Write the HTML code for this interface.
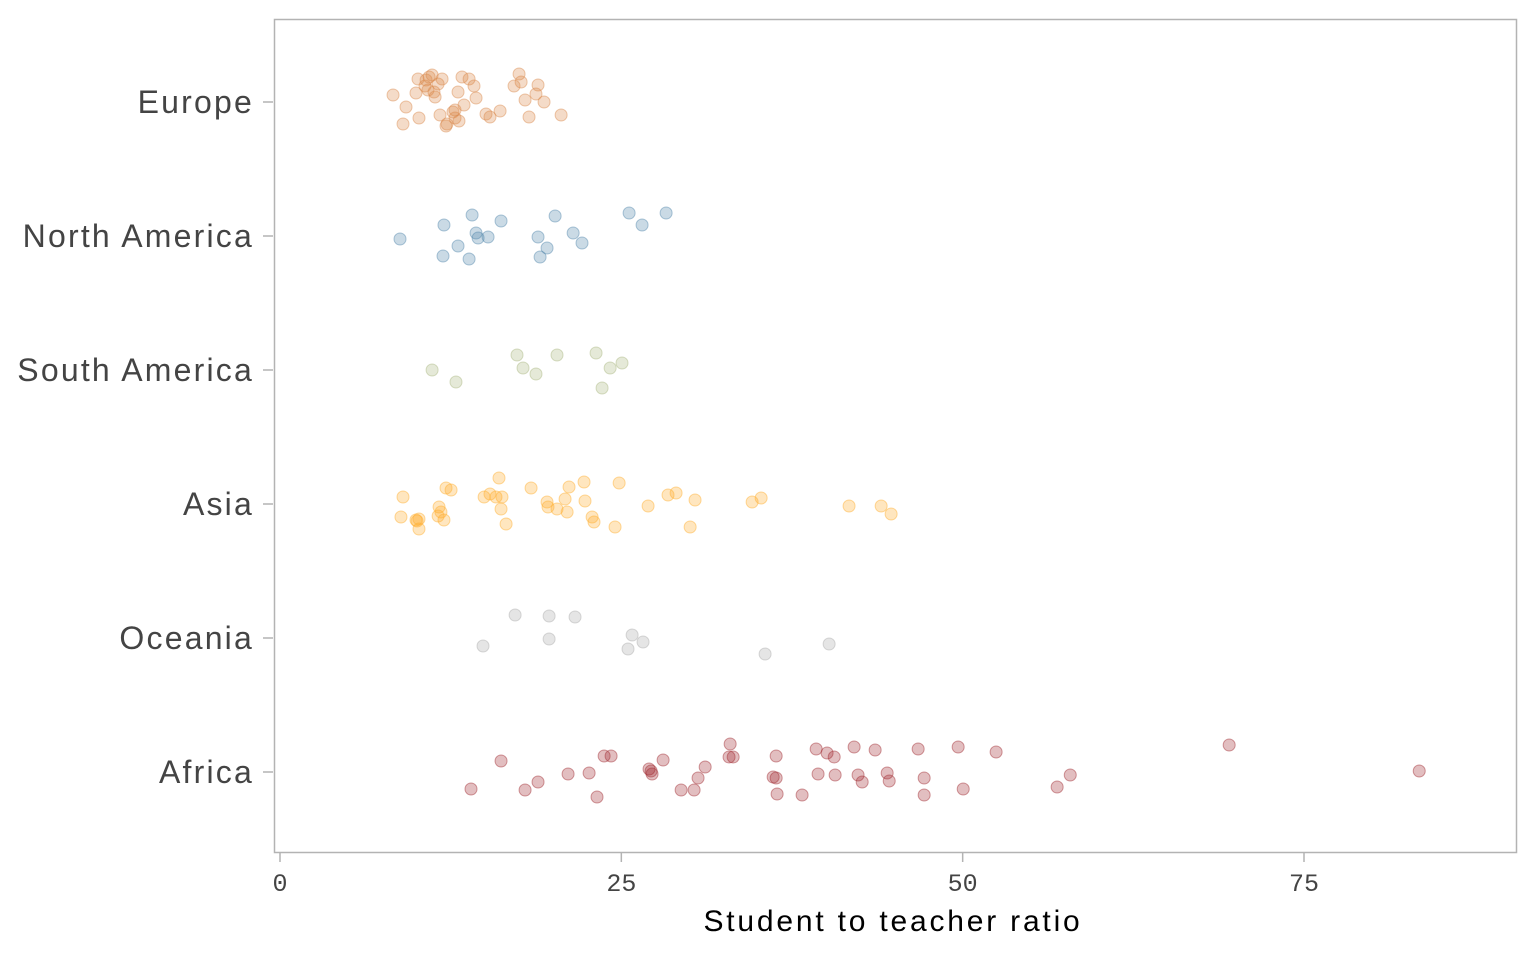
<!DOCTYPE html>
<html><head><meta charset="utf-8"><style>
html,body{margin:0;padding:0;background:#fff;width:1536px;height:960px;overflow:hidden}
svg{display:block}
</style></head><body>
<svg id="chart" width="1536" height="960" xmlns="http://www.w3.org/2000/svg">
<rect x="274.5" y="19.5" width="1242" height="833" fill="none" stroke="#b3b3b3" stroke-width="1.5"/>
<g id="yaxis"></g>
<g id="xaxis"></g>
<g id="points"></g>
<text x="893" y="931" text-anchor="middle" font-family="Liberation Sans, sans-serif" font-size="30" letter-spacing="2.8" fill="#000">Student to teacher ratio</text>
</svg>
<script>
const categories = ["Europe","North America","South America","Asia","Oceania","Africa"];
const colors = ["#d9884a","#4f86aa","#a8b67f","#ffad2a","#aaaaaa","#a0282e"];
const xTicks = [0,25,50,75];
const europe = [8.28,9.23,9.01,10.11,9.96,10.18,10.70,10.84,10.92,11.14,11.28,11.36,11.72,11.87,12.23,12.16,12.67,12.82,13.04,13.11,13.33,13.48,13.85,14.21,14.36,15.09,15.38,16.12,17.14,17.51,17.66,17.95,18.24,18.75,18.90,19.34,20.59,12.82,11.58,10.62];
const europeJitter = [-7,5,22,-23,-9,16,-22,-12,-25,-27,-10,-5,13,-23,22,24,10,16,-10,19,-25,3,-23,-16,-4,12,15,9,-16,-28,-20,-2,15,-8,-17,0,13,8,-18,-16];
const northAmerica = [8.79,12.01,11.94,13.04,13.85,14.07,14.36,14.51,15.24,16.19,18.90,19.05,19.56,20.15,21.47,22.12,25.57,26.52,28.28];
const northAmericaJitter = [3,-11,20,10,23,-21,-3,2,1,-15,1,21,12,-20,-3,7,-23,-11,-23];
const southAmerica = [11.14,12.89,17.36,17.80,18.75,20.29,23.15,23.59,24.18,25.05];
const southAmericaJitter = [0,12,-15,-2,4,-15,-17,18,-2,-7];
const asia = [8.86,9.01,10.04,10.18,10.18,11.58,11.65,11.79,12.01,12.16,12.53,14.95,15.38,15.82,16.04,16.19,16.26,16.56,18.39,19.56,19.63,20.29,20.88,21.03,21.17,22.27,22.34,22.86,23.00,24.54,24.84,26.96,28.42,29.01,30.04,30.40,34.58,35.24,41.68,44.03,44.76,9.96];
const asiaJitter = [13,-7,17,25,15,12,3,8,16,-16,-14,-7,-10,-7,-26,5,-7,20,-16,-2,3,5,-5,8,-17,-22,-3,13,18,23,-21,2,-9,-11,23,-4,-2,-6,2,2,10,16];
const oceania = [14.87,17.22,19.71,19.71,21.61,25.49,25.79,26.59,35.53,40.22];
const oceaniaJitter = [8,-23,-22,1,-21,11,-3,4,16,6];
const africa = [13.99,16.19,17.95,18.90,21.10,22.64,23.22,23.74,24.25,27.03,27.18,27.25,28.06,29.38,30.33,30.62,31.14,32.89,32.97,33.19,36.12,36.34,36.34,36.41,38.24,39.27,39.41,40.07,40.59,40.66,42.05,42.34,42.64,43.59,44.47,44.62,46.74,47.18,47.18,49.67,50.04,52.45,56.92,57.88,69.52,83.44];
const africaJitter = [17,-11,18,10,2,1,25,-16,-16,-3,-1,2,-12,18,18,6,-5,-15,-28,-15,5,-16,6,22,23,-23,2,-19,-15,3,-25,3,10,-22,1,9,-23,6,23,-25,17,-20,15,3,-27,-1];

const series = [[europe,europeJitter],[northAmerica,northAmericaJitter],[southAmerica,southAmericaJitter],[asia,asiaJitter],[oceania,oceaniaJitter],[africa,africaJitter]];
const NS="http://www.w3.org/2000/svg";
function xScale(v){return 280+v*(1304-280)/75;}
function yScale(i){return 102+i*(772-102)/5;}
function jScale(j){return j*((772-102)/5)/134;}
function mk(tag,attrs,parent){const e=document.createElementNS(NS,tag);for(const k in attrs)e.setAttribute(k,attrs[k]);parent.appendChild(e);return e;}
const yg=document.getElementById('yaxis'),xg=document.getElementById('xaxis'),pg=document.getElementById('points');
categories.forEach((c,i)=>{
  const y=yScale(i);
  const t=mk('line',{x1:263,x2:273,y1:y,y2:y,stroke:'#b3b3b3','stroke-width':1.5},yg);
  
  
  const l=mk('text',{x:254,y:y+11,'text-anchor':'end','font-family':'Liberation Sans, sans-serif','font-size':32,'letter-spacing':2.2,fill:'#444'},yg);
  l.textContent=c;
  
  
});
xTicks.forEach(v=>{
  const x=xScale(v);
  const t=mk('line',{x1:x,x2:x,y1:853,y2:862,stroke:'#b3b3b3','stroke-width':1.5},xg);
  
  
  const l=mk('text',{x:x,y:891,'text-anchor':'middle','font-family':'Liberation Mono, monospace','font-size':25,fill:'#444'},xg);
  l.textContent=v;
  
  
});
series.forEach((s,i)=>{
  const [vals,jit]=s;
  vals.forEach((v,k)=>{
    const c=mk('circle',{cx:xScale(v),cy:yScale(i)+jScale(jit[k]),r:6,fill:colors[i],'fill-opacity':0.3,stroke:colors[i],'stroke-opacity':0.45,'stroke-width':1},pg);
    
    
  });
});
</script>
</body></html>
